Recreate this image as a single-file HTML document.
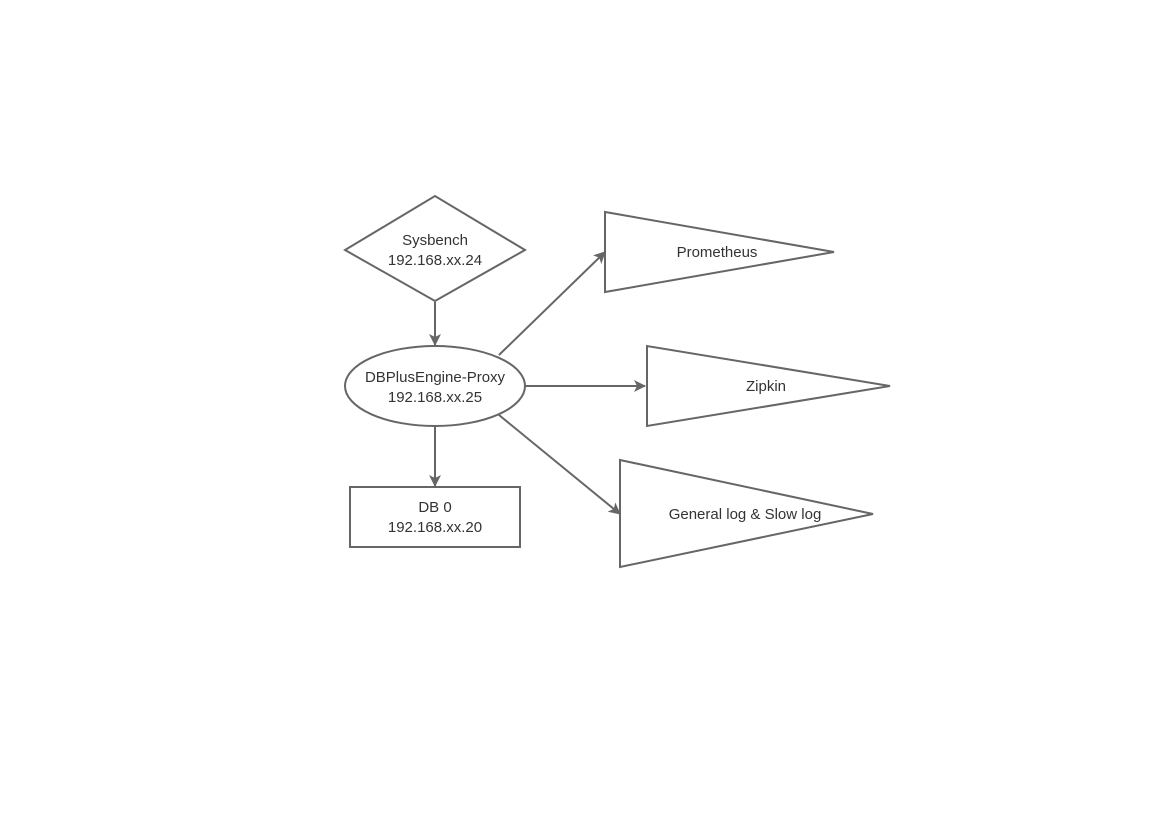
<!DOCTYPE html>
<html><head><style>body{margin:0;background:#fff}svg{display:block}text{font-family:"Liberation Sans",sans-serif;font-size:15px;fill:#333}</style></head>
<body>
<svg width="1169" height="827" viewBox="0 0 1169 827">
<defs><marker id="a" markerWidth="12" markerHeight="12" refX="11" refY="6" orient="auto" markerUnits="userSpaceOnUse"><path d="M0,0 L12,6 L0,12 L3,6 Z" fill="#666"/></marker></defs>
<g fill="none" stroke="#666" stroke-width="2">
<polygon points="345,250 435,196 525,250 435,301" fill="#fff"/>
<ellipse cx="435" cy="386" rx="90" ry="40" fill="#fff"/>
<rect x="350" y="487" width="170" height="60" fill="#fff"/>
<polygon points="605,212 605,292 834,252"/>
<polygon points="647,346 647,426 890,386"/>
<polygon points="620,460 620,567 873,514"/>
<line x1="435" y1="302" x2="435" y2="345" marker-end="url(#a)"/>
<line x1="435" y1="427" x2="435" y2="486" marker-end="url(#a)"/>
<line x1="499" y1="355" x2="605" y2="252" marker-end="url(#a)"/>
<line x1="525" y1="386" x2="645" y2="386" marker-end="url(#a)"/>
<line x1="499" y1="415" x2="620" y2="514" marker-end="url(#a)"/>
</g>
<g text-anchor="middle">
<text x="435" y="245">Sysbench</text><text x="435" y="265">192.168.xx.24</text>
<text x="435" y="382">DBPlusEngine-Proxy</text><text x="435" y="402">192.168.xx.25</text>
<text x="435" y="512">DB 0</text><text x="435" y="532">192.168.xx.20</text>
<text x="717" y="257">Prometheus</text>
<text x="766" y="391">Zipkin</text>
<text x="745" y="519">General log &amp; Slow log</text>
</g>
</svg>
</body></html>
